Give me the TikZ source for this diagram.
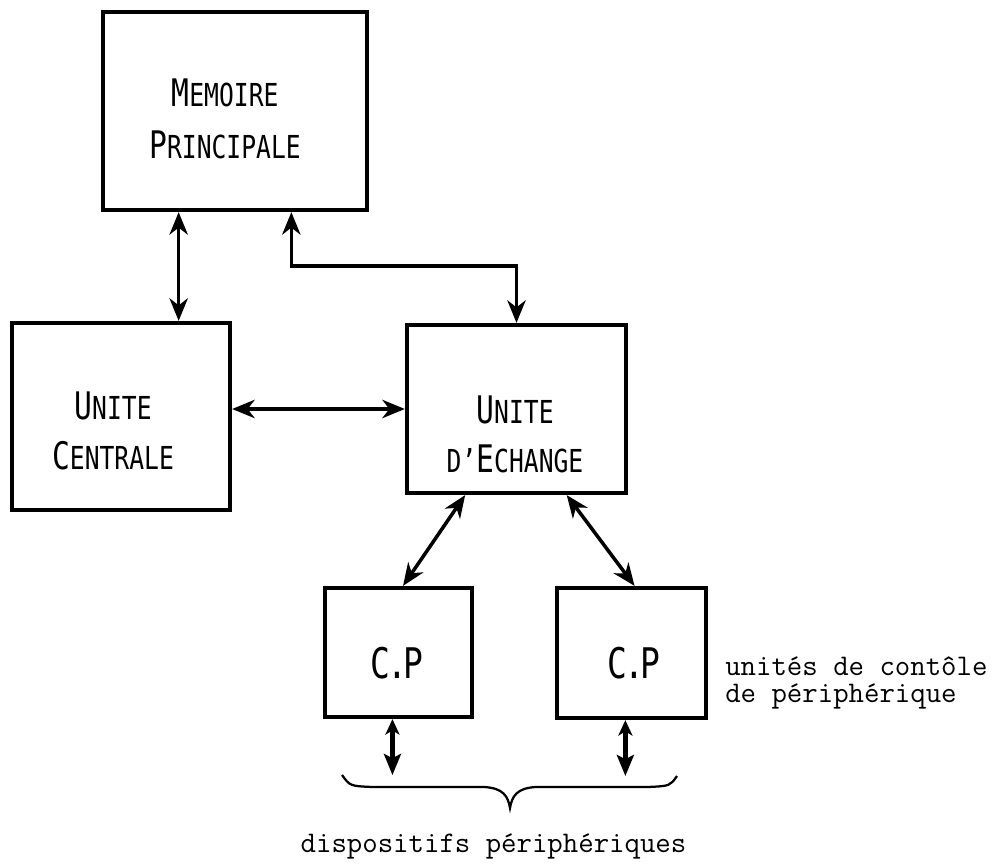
\documentclass[tikz,border=0pt]{standalone}
\usepackage{fontspec}
\usetikzlibrary{arrows.meta,calc}
\newfontfamily\lettrage[FakeStretch=0.78]{DejaVu Sans Mono}
\def\initiale#1#2{{\fontsize{27}{35}\selectfont #1}{\fontsize{22.5}{35}\selectfont #2}}

\begin{document}
\begin{tikzpicture}[x=0.025cm, y=-0.025cm,
		bloc/.style={draw, line width=3pt, inner sep=0pt},
		lettre/.style={font=\lettrage\fontsize{22.5}{35}\selectfont, align=center, inner sep=0pt},
		sigle/.style={font=\lettrage\fontsize{30}{32}\selectfont, inner sep=0pt},
		machine/.style={font=\ttfamily\fontsize{21.3}{24}\selectfont, inner sep=0pt},
		fleche/.style={line width=2.5pt, {Stealth[length=16pt,width=13pt,inset=5pt]}-{Stealth[length=16pt,width=13pt,inset=5pt]}},
		flechecourte/.style={line width=3.4pt, {Stealth[length=11pt,width=10pt,inset=3pt]}-{Stealth[length=15pt,width=12pt,inset=3pt]}},
		accolade/.style={line width=1.6pt}]
			%%%%% START %%%%%
			
			\useasboundingbox (0,0) rectangle (996,866);
			
			\node[bloc, minimum width=6.6cm, minimum height=4.95cm] (mem) at (235,111) {};
			\node[bloc, minimum width=5.45cm, minimum height=4.675cm] (uc) at (121,416.5) {};
			\node[bloc, minimum width=5.475cm, minimum height=4.2cm] (ue) at (516.5,409) {};
			\node[bloc, minimum width=3.675cm, minimum height=3.225cm] (cpA) at (398.5,652.5) {};
			\node[bloc, minimum width=3.725cm, minimum height=3.25cm] (cpB) at (631.5,653) {};
			
			\node[lettre] (memT) at (225,118.5) {\initiale{M}{EMOIRE}\\[2pt]\initiale{P}{RINCIPALE}};
			\node[lettre] (ucT) at (113,431) {\initiale{U}{NITE}\\\initiale{C}{ENTRALE}};
			\node[lettre] (ueT) at (515,434) {\initiale{U}{NITE}\\D’\initiale{E}{CHANGE}};
			\node[sigle] (cpAT) at (397,663) {C\kern-.08em.\kern-.08em P};
			\node[sigle] (cpBT) at (634,663) {C\kern-.08em.\kern-.08em P};
			
			\path ($(mem.south west)!.29!(mem.south east)$) coordinate (m1)
				($(mem.south west)!.71!(mem.south east)$) coordinate (m2);
			\draw[fleche] (m1) -- (m1 |- uc.north);
			\draw[fleche] (m2) |- ($(ue.north)+(0,-57)$) -- (ue.north);
			\draw[fleche] (uc.east |- ue.west) -- (ue.west);
			
			\draw[fleche] ($(ue.south west)!.27!(ue.south east)$) -- ($(cpA.north west)!.53!(cpA.north east)$);
			\draw[fleche] ($(ue.south west)!.725!(ue.south east)$) -- ($(cpB.north west)!.52!(cpB.north east)$);
			
			\draw[flechecourte] ($(cpA.south west)!.46!(cpA.south east)$) -- ++(0,56);
			\draw[flechecourte] ($(cpB.south west)!.46!(cpB.south east)$) -- ++(0,56);
			
			\draw[accolade] (342,775) .. controls (350,786) .. (372,787) -- (484,787)
				.. controls (503,788) and (508,796) .. (510,808)
				.. controls (512,796) and (517,788) .. (536,787) -- (648,787)
				.. controls (670,786) .. (677,776);
			
			\node[machine, anchor=base west] (note1) at (725,675) {unités de contôle};
			\node[machine, anchor=base west] (note2) at (725,703) {de périphérique};
			\node[machine, anchor=base] (disp) at (493.5,852) {dispositifs périphériques};
			
			%%%%% END %%%%%
		\end{tikzpicture}
\end{document}
